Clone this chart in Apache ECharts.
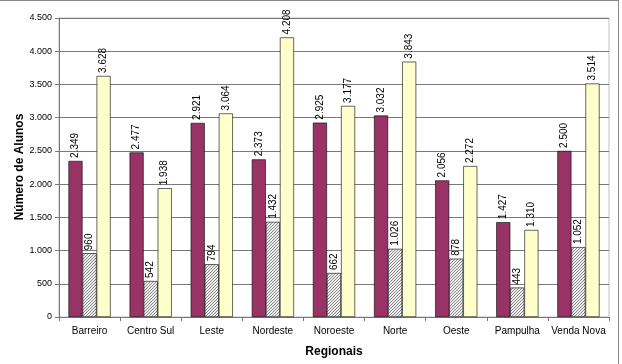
<!DOCTYPE html>
<html>
<head>
<meta charset="utf-8">
<script src="https://cdn.jsdelivr.net/npm/echarts@6/dist/echarts.min.js"></script>
<style>
  html, body { margin: 0; padding: 0; background: #fff; }
  #frame { position: absolute; left: 0; top: 0; width: 618px; height: 364px;
    border-top: 1px solid #8a8a8a; border-right: 1px solid #8a8a8a; }
  #chart { width: 622px; height: 364px; }
</style>
</head>
<body>
<div id="frame"></div>
<div id="chart"></div>
<script>
const regionais = ['Barreiro', 'Centro Sul', 'Leste', 'Nordeste', 'Noroeste', 'Norte', 'Oeste', 'Pampulha', 'Venda Nova'];
const serieA = [2349, 2477, 2921, 2373, 2925, 3032, 2056, 1427, 2500];
const serieB = [960, 542, 794, 1432, 662, 1026, 878, 443, 1052];
const serieC = [3628, 1938, 3064, 4208, 3177, 3843, 2272, 1310, 3514];

// número com ponto de milhar
const fmt = v => String(v).replace(/\B(?=(\d{3})+(?!\d))/g, '.');

// hachura diagonal fina
const hatch = (() => {
  const c = document.createElement('canvas');
  c.width = 3; c.height = 3;
  const ctx = c.getContext('2d');
  ctx.fillStyle = '#ececec';
  ctx.fillRect(0, 0, 3, 3);
  ctx.fillStyle = '#8c8c8c';
  ctx.fillRect(2, 0, 1, 1);
  ctx.fillRect(1, 1, 1, 1);
  ctx.fillRect(0, 2, 1, 1);
  return c;
})();

const labelOpt = {
  show: true,
  position: 'top',
  rotate: 90,
  align: 'left',
  verticalAlign: 'middle',
  distance: 3,
  fontFamily: 'Liberation Sans',
  fontSize: 10,
  color: '#000',
  formatter: p => fmt(p.value)
};

const chart = echarts.init(document.getElementById('chart'));
chart.setOption({
  animation: false,
  textStyle: { fontFamily: 'Liberation Sans' },
  grid: { left: 59, right: 13, top: 18, bottom: 47, show: true, borderColor: '#bdbdbd', borderWidth: 1 },
  graphic: [{
    type: 'text',
    x: 20, y: 167,
    rotation: Math.PI / 2,
    style: {
      text: 'Número de Alunos',
      fontFamily: 'Liberation Sans', fontWeight: 'bold', fontSize: 12, fill: '#000',
      align: 'center', verticalAlign: 'middle'
    }
  }],
  xAxis: {
    type: 'category',
    data: regionais,
    name: 'Regionais',
    nameLocation: 'middle',
    nameGap: 29,
    nameTextStyle: { fontWeight: 'bold', fontSize: 12, color: '#000' },
    axisLine: { lineStyle: { color: '#777', width: 1 } },
    axisTick: { show: true, length: 4, lineStyle: { color: '#777' } },
    axisLabel: { interval: 0, fontSize: 10, color: '#000', margin: 9 }
  },
  yAxis: {
    type: 'value',
    min: 0, max: 4500, interval: 500,
    axisLine: { show: true, lineStyle: { color: '#777', width: 1 } },
    axisTick: { show: true, length: 4, lineStyle: { color: '#777' } },
    axisLabel: { fontSize: 9, color: '#000', margin: 7, formatter: v => fmt(v) },
    splitLine: { lineStyle: { color: '#7a7a7a', width: 1 } }
  },
  series: [
    {
      type: 'bar', data: serieA, barGap: '0%', barCategoryGap: '31%',
      itemStyle: { color: '#993366', borderColor: '#000', borderWidth: 0.6 },
      label: labelOpt
    },
    {
      type: 'bar', data: serieB,
      itemStyle: { color: { image: hatch, repeat: 'repeat' }, borderColor: '#000', borderWidth: 0.6 },
      label: labelOpt
    },
    {
      type: 'bar', data: serieC,
      itemStyle: { color: '#ffffcc', borderColor: '#000', borderWidth: 0.6 },
      label: labelOpt
    }
  ]
});
</script>
</body>
</html>
